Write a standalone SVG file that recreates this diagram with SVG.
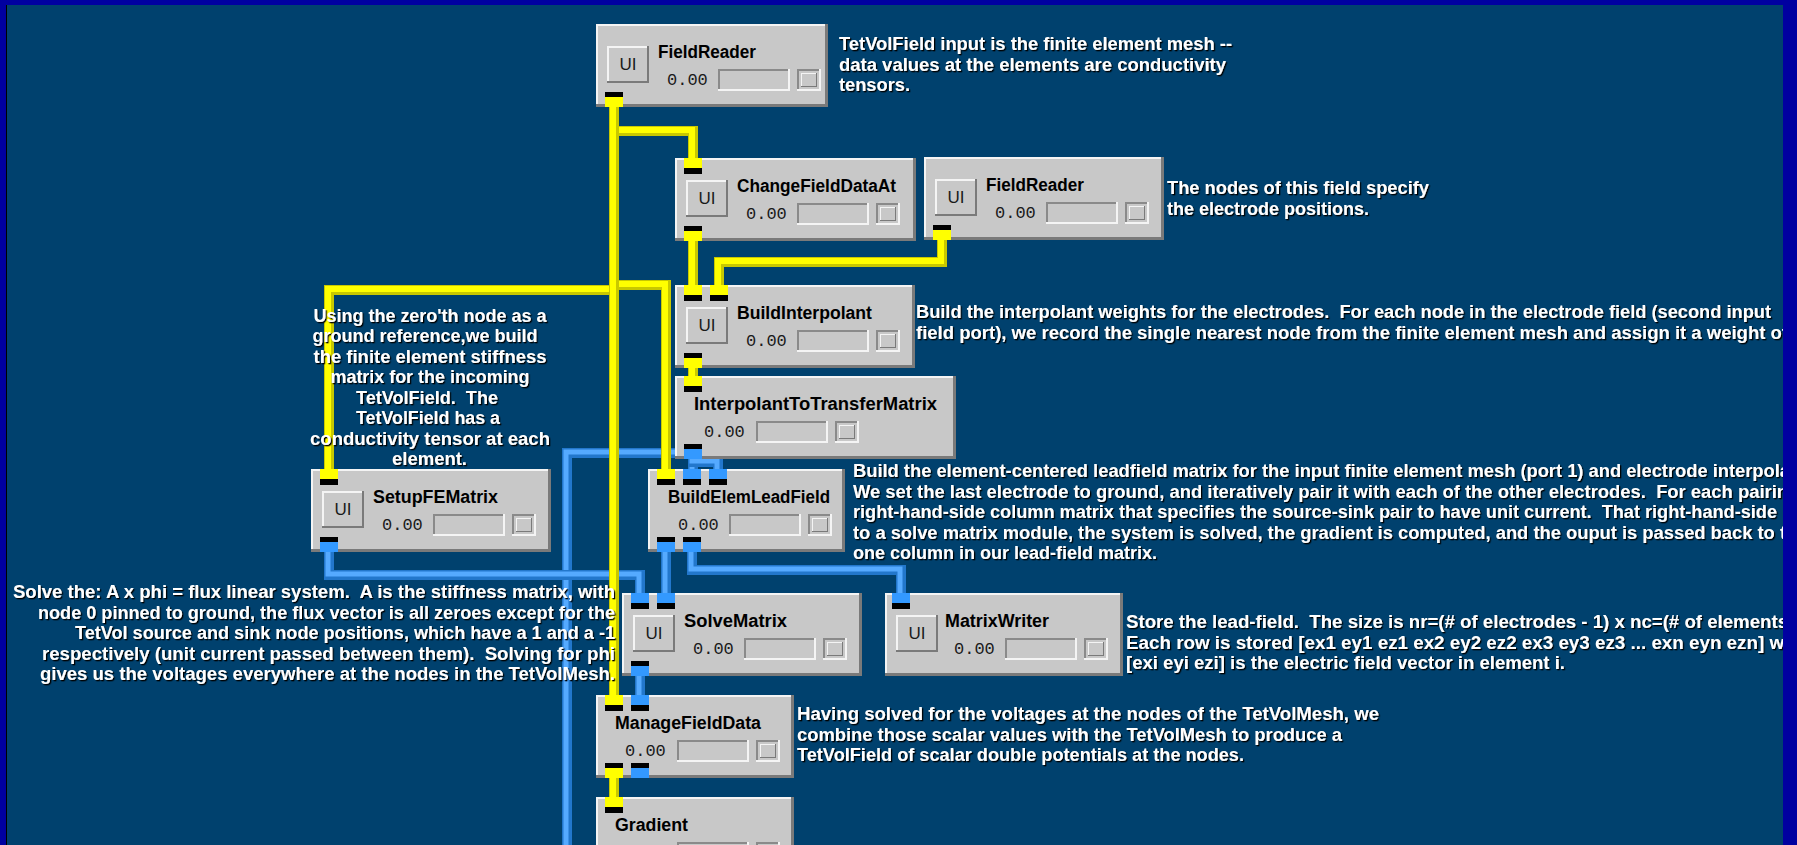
<svg xmlns="http://www.w3.org/2000/svg" width="1797" height="845" viewBox="0 0 1797 845">
<defs>
<filter id="sh" x="-5%" y="-10%" width="110%" height="130%">
<feDropShadow dx="1.3" dy="1.3" stdDeviation="0.2" flood-color="#000" flood-opacity="1"/>
</filter>
<style>
.bg{fill:#00416e}
.frame{fill:#0000a0}
.bd{fill:#7a7a7a}
.bl{fill:#f4f4f4}
.bf{fill:#c8c8c8}
.sd{fill:#8a8a8a}
.title{font-family:"Liberation Sans",Arial,sans-serif;font-weight:bold;font-size:18px;fill:#000}
.val{font-family:"Liberation Mono","Courier New",monospace;font-size:17px;fill:#1a1a1a}
.ui{font-family:"Liberation Sans",Arial,sans-serif;font-size:17px;fill:#1a1a1a;text-anchor:middle}
.ann{font-family:"Liberation Sans",Arial,sans-serif;font-weight:bold;font-size:18px;fill:#fff;white-space:pre}
.pk{fill:#000}
.py{fill:#ffff00}
.pb{fill:#3399ff}
.yo{fill:none;stroke:#c8c800;stroke-width:10}
.yi{fill:none;stroke:#ffff00;stroke-width:6}
.bo{fill:none;stroke:#2277cc;stroke-width:10}
.bi{fill:none;stroke:#55aaff;stroke-width:5}
</style>
</defs>
<rect class="bg" x="0" y="0" width="1797" height="845"/>

<g id="connectors">
<g id="matrix-connectors">
<path class="bo" d="M693,453 H567 V850"/><path class="bi" d="M693,452 H566 V850"/>
<path class="bo" d="M329,552 V575 H640 V593"/><path class="bi" d="M328,552 V574 H639 V593"/>
<path class="bo" d="M692,552 V570 H901 V593"/><path class="bi" d="M691,552 V569 H900 V593"/>
<path class="bo" d="M666,552 V593"/><path class="bi" d="M665,552 V593"/>
<path class="bo" d="M640,676 V695"/><path class="bi" d="M639,676 V695"/>
<path class="bo" d="M693,457 V469"/><path class="bi" d="M692,457 V469"/>
<path class="bo" d="M693,457 V462 H718 V469"/><path class="bi" d="M692,457 V461 H717 V469"/>
</g>
<g id="field-connectors">
<path class="yo" d="M614,107 V131 H693 V158"/><path class="yi" d="M613,107 V130 H692 V158"/>
<path class="yo" d="M614,107 V290 H329 V469"/><path class="yi" d="M613,107 V289 H328 V469"/>
<path class="yo" d="M614,107 V285 H666 V469"/><path class="yi" d="M613,107 V284 H665 V469"/>
<path class="yo" d="M614,107 V695"/><path class="yi" d="M613,107 V695"/>
<path class="yo" d="M693,240 V285"/><path class="yi" d="M692,240 V285"/>
<path class="yo" d="M942,239 V262 H719 V285"/><path class="yi" d="M941,239 V261 H718 V285"/>
<path class="yo" d="M693,367 V376"/><path class="yi" d="M692,367 V376"/>
<path class="yo" d="M614,777 V797"/><path class="yi" d="M613,777 V797"/>
</g>
</g>

<g id="node-fieldreader-1" transform="translate(596,24)">
<rect class="bd" width="232" height="83"/><rect class="bl" width="229" height="80"/><rect class="bf" x="2" y="2" width="227" height="78"/>
<rect class="bd" x="11" y="22" width="42" height="37"/><rect class="bl" x="11" y="22" width="40" height="35"/><rect class="bf" x="13" y="24" width="38" height="33"/><text class="ui" x="32" y="46">UI</text>
<text class="title" x="62" y="34" textLength="98" lengthAdjust="spacingAndGlyphs">FieldReader</text>
<text class="val" x="71" y="61">0.00</text>
<rect class="bl" x="122" y="45" width="72" height="22"/><rect class="sd" x="122" y="45" width="70" height="20"/><rect class="bf" x="124" y="47" width="68" height="18"/>
<rect class="bl" x="201" y="45" width="24" height="22"/><rect class="sd" x="201" y="45" width="22" height="20"/><rect class="bf" x="203" y="47" width="20" height="18"/><rect class="bd" x="205" y="49" width="16" height="14"/><rect class="bl" x="205" y="49" width="15" height="13"/><rect class="bf" x="206" y="50" width="14" height="12"/>
<rect class="pk" x="9" y="68" width="18" height="5"/><rect class="py" x="9" y="73" width="18" height="10"/>
</g>

<g id="node-changefielddataat" transform="translate(675,158)">
<rect class="bd" width="241" height="83"/><rect class="bl" width="238" height="80"/><rect class="bf" x="2" y="2" width="236" height="78"/>
<rect class="bd" x="11" y="22" width="42" height="37"/><rect class="bl" x="11" y="22" width="40" height="35"/><rect class="bf" x="13" y="24" width="38" height="33"/><text class="ui" x="32" y="46">UI</text>
<text class="title" x="62" y="34" textLength="159" lengthAdjust="spacingAndGlyphs">ChangeFieldDataAt</text>
<text class="val" x="71" y="61">0.00</text>
<rect class="bl" x="122" y="45" width="72" height="22"/><rect class="sd" x="122" y="45" width="70" height="20"/><rect class="bf" x="124" y="47" width="68" height="18"/>
<rect class="bl" x="201" y="45" width="24" height="22"/><rect class="sd" x="201" y="45" width="22" height="20"/><rect class="bf" x="203" y="47" width="20" height="18"/><rect class="bd" x="205" y="49" width="16" height="14"/><rect class="bl" x="205" y="49" width="15" height="13"/><rect class="bf" x="206" y="50" width="14" height="12"/>
<rect class="py" x="9" y="0" width="18" height="10"/><rect class="pk" x="9" y="10" width="18" height="6"/>
<rect class="pk" x="9" y="68" width="18" height="5"/><rect class="py" x="9" y="73" width="18" height="10"/>
</g>

<g id="node-fieldreader-2" transform="translate(924,157)">
<rect class="bd" width="240" height="83"/><rect class="bl" width="237" height="80"/><rect class="bf" x="2" y="2" width="235" height="78"/>
<rect class="bd" x="11" y="22" width="42" height="37"/><rect class="bl" x="11" y="22" width="40" height="35"/><rect class="bf" x="13" y="24" width="38" height="33"/><text class="ui" x="32" y="46">UI</text>
<text class="title" x="62" y="34" textLength="98" lengthAdjust="spacingAndGlyphs">FieldReader</text>
<text class="val" x="71" y="61">0.00</text>
<rect class="bl" x="122" y="45" width="72" height="22"/><rect class="sd" x="122" y="45" width="70" height="20"/><rect class="bf" x="124" y="47" width="68" height="18"/>
<rect class="bl" x="201" y="45" width="24" height="22"/><rect class="sd" x="201" y="45" width="22" height="20"/><rect class="bf" x="203" y="47" width="20" height="18"/><rect class="bd" x="205" y="49" width="16" height="14"/><rect class="bl" x="205" y="49" width="15" height="13"/><rect class="bf" x="206" y="50" width="14" height="12"/>
<rect class="pk" x="9" y="68" width="18" height="5"/><rect class="py" x="9" y="73" width="18" height="10"/>
</g>

<g id="node-buildinterpolant" transform="translate(675,285)">
<rect class="bd" width="240" height="83"/><rect class="bl" width="237" height="80"/><rect class="bf" x="2" y="2" width="235" height="78"/>
<rect class="bd" x="11" y="22" width="42" height="37"/><rect class="bl" x="11" y="22" width="40" height="35"/><rect class="bf" x="13" y="24" width="38" height="33"/><text class="ui" x="32" y="46">UI</text>
<text class="title" x="62" y="34" textLength="135" lengthAdjust="spacingAndGlyphs">BuildInterpolant</text>
<text class="val" x="71" y="61">0.00</text>
<rect class="bl" x="122" y="45" width="72" height="22"/><rect class="sd" x="122" y="45" width="70" height="20"/><rect class="bf" x="124" y="47" width="68" height="18"/>
<rect class="bl" x="201" y="45" width="24" height="22"/><rect class="sd" x="201" y="45" width="22" height="20"/><rect class="bf" x="203" y="47" width="20" height="18"/><rect class="bd" x="205" y="49" width="16" height="14"/><rect class="bl" x="205" y="49" width="15" height="13"/><rect class="bf" x="206" y="50" width="14" height="12"/>
<rect class="py" x="9" y="0" width="18" height="10"/><rect class="pk" x="9" y="10" width="18" height="6"/>
<rect class="py" x="35" y="0" width="18" height="10"/><rect class="pk" x="35" y="10" width="18" height="6"/>
<rect class="pk" x="9" y="68" width="18" height="5"/><rect class="py" x="9" y="73" width="18" height="10"/>
</g>

<g id="node-interpolanttotransfermatrix" transform="translate(675,376)">
<rect class="bd" width="281" height="83"/><rect class="bl" width="278" height="80"/><rect class="bf" x="2" y="2" width="276" height="78"/>
<text class="title" x="19" y="34" textLength="243" lengthAdjust="spacingAndGlyphs">InterpolantToTransferMatrix</text>
<text class="val" x="29" y="61">0.00</text>
<rect class="bl" x="81" y="45" width="72" height="22"/><rect class="sd" x="81" y="45" width="70" height="20"/><rect class="bf" x="83" y="47" width="68" height="18"/>
<rect class="bl" x="160" y="45" width="24" height="22"/><rect class="sd" x="160" y="45" width="22" height="20"/><rect class="bf" x="162" y="47" width="20" height="18"/><rect class="bd" x="164" y="49" width="16" height="14"/><rect class="bl" x="164" y="49" width="15" height="13"/><rect class="bf" x="165" y="50" width="14" height="12"/>
<rect class="py" x="9" y="0" width="18" height="10"/><rect class="pk" x="9" y="10" width="18" height="6"/>
<rect class="pk" x="9" y="68" width="18" height="5"/><rect class="pb" x="9" y="73" width="18" height="10"/>
</g>

<g id="node-setupfematrix" transform="translate(311,469)">
<rect class="bd" width="240" height="83"/><rect class="bl" width="237" height="80"/><rect class="bf" x="2" y="2" width="235" height="78"/>
<rect class="bd" x="11" y="22" width="42" height="37"/><rect class="bl" x="11" y="22" width="40" height="35"/><rect class="bf" x="13" y="24" width="38" height="33"/><text class="ui" x="32" y="46">UI</text>
<text class="title" x="62" y="34" textLength="125" lengthAdjust="spacingAndGlyphs">SetupFEMatrix</text>
<text class="val" x="71" y="61">0.00</text>
<rect class="bl" x="122" y="45" width="72" height="22"/><rect class="sd" x="122" y="45" width="70" height="20"/><rect class="bf" x="124" y="47" width="68" height="18"/>
<rect class="bl" x="201" y="45" width="24" height="22"/><rect class="sd" x="201" y="45" width="22" height="20"/><rect class="bf" x="203" y="47" width="20" height="18"/><rect class="bd" x="205" y="49" width="16" height="14"/><rect class="bl" x="205" y="49" width="15" height="13"/><rect class="bf" x="206" y="50" width="14" height="12"/>
<rect class="py" x="9" y="0" width="18" height="10"/><rect class="pk" x="9" y="10" width="18" height="6"/>
<rect class="pk" x="9" y="68" width="18" height="5"/><rect class="pb" x="9" y="73" width="18" height="10"/>
</g>

<g id="node-buildelemleadfield" transform="translate(648,469)">
<rect class="bd" width="197" height="83"/><rect class="bl" width="194" height="80"/><rect class="bf" x="2" y="2" width="192" height="78"/>
<text class="title" x="20" y="34" textLength="162" lengthAdjust="spacingAndGlyphs">BuildElemLeadField</text>
<text class="val" x="30" y="61">0.00</text>
<rect class="bl" x="81" y="45" width="72" height="22"/><rect class="sd" x="81" y="45" width="70" height="20"/><rect class="bf" x="83" y="47" width="68" height="18"/>
<rect class="bl" x="160" y="45" width="24" height="22"/><rect class="sd" x="160" y="45" width="22" height="20"/><rect class="bf" x="162" y="47" width="20" height="18"/><rect class="bd" x="164" y="49" width="16" height="14"/><rect class="bl" x="164" y="49" width="15" height="13"/><rect class="bf" x="165" y="50" width="14" height="12"/>
<rect class="py" x="9" y="0" width="18" height="10"/><rect class="pk" x="9" y="10" width="18" height="6"/>
<rect class="pb" x="35" y="0" width="18" height="10"/><rect class="pk" x="35" y="10" width="18" height="6"/>
<rect class="pb" x="61" y="0" width="18" height="10"/><rect class="pk" x="61" y="10" width="18" height="6"/>
<rect class="pk" x="9" y="68" width="18" height="5"/><rect class="pb" x="9" y="73" width="18" height="10"/>
<rect class="pk" x="35" y="68" width="18" height="5"/><rect class="pb" x="35" y="73" width="18" height="10"/>
</g>

<g id="node-solvematrix" transform="translate(622,593)">
<rect class="bd" width="240" height="83"/><rect class="bl" width="237" height="80"/><rect class="bf" x="2" y="2" width="235" height="78"/>
<rect class="bd" x="11" y="22" width="42" height="37"/><rect class="bl" x="11" y="22" width="40" height="35"/><rect class="bf" x="13" y="24" width="38" height="33"/><text class="ui" x="32" y="46">UI</text>
<text class="title" x="62" y="34" textLength="103" lengthAdjust="spacingAndGlyphs">SolveMatrix</text>
<text class="val" x="71" y="61">0.00</text>
<rect class="bl" x="122" y="45" width="72" height="22"/><rect class="sd" x="122" y="45" width="70" height="20"/><rect class="bf" x="124" y="47" width="68" height="18"/>
<rect class="bl" x="201" y="45" width="24" height="22"/><rect class="sd" x="201" y="45" width="22" height="20"/><rect class="bf" x="203" y="47" width="20" height="18"/><rect class="bd" x="205" y="49" width="16" height="14"/><rect class="bl" x="205" y="49" width="15" height="13"/><rect class="bf" x="206" y="50" width="14" height="12"/>
<rect class="pb" x="9" y="0" width="18" height="10"/><rect class="pk" x="9" y="10" width="18" height="6"/>
<rect class="pb" x="35" y="0" width="18" height="10"/><rect class="pk" x="35" y="10" width="18" height="6"/>
<rect class="pk" x="9" y="68" width="18" height="5"/><rect class="pb" x="9" y="73" width="18" height="10"/>
</g>

<g id="node-matrixwriter" transform="translate(885,593)">
<rect class="bd" width="238" height="83"/><rect class="bl" width="235" height="80"/><rect class="bf" x="2" y="2" width="233" height="78"/>
<rect class="bd" x="11" y="22" width="42" height="37"/><rect class="bl" x="11" y="22" width="40" height="35"/><rect class="bf" x="13" y="24" width="38" height="33"/><text class="ui" x="32" y="46">UI</text>
<text class="title" x="60" y="34" textLength="104" lengthAdjust="spacingAndGlyphs">MatrixWriter</text>
<text class="val" x="69" y="61">0.00</text>
<rect class="bl" x="120" y="45" width="72" height="22"/><rect class="sd" x="120" y="45" width="70" height="20"/><rect class="bf" x="122" y="47" width="68" height="18"/>
<rect class="bl" x="199" y="45" width="24" height="22"/><rect class="sd" x="199" y="45" width="22" height="20"/><rect class="bf" x="201" y="47" width="20" height="18"/><rect class="bd" x="203" y="49" width="16" height="14"/><rect class="bl" x="203" y="49" width="15" height="13"/><rect class="bf" x="204" y="50" width="14" height="12"/>
<rect class="pb" x="7" y="0" width="18" height="10"/><rect class="pk" x="7" y="10" width="18" height="6"/>
</g>

<g id="node-managefielddata" transform="translate(596,695)">
<rect class="bd" width="198" height="83"/><rect class="bl" width="195" height="80"/><rect class="bf" x="2" y="2" width="193" height="78"/>
<text class="title" x="19" y="34" textLength="146" lengthAdjust="spacingAndGlyphs">ManageFieldData</text>
<text class="val" x="29" y="61">0.00</text>
<rect class="bl" x="81" y="45" width="72" height="22"/><rect class="sd" x="81" y="45" width="70" height="20"/><rect class="bf" x="83" y="47" width="68" height="18"/>
<rect class="bl" x="160" y="45" width="24" height="22"/><rect class="sd" x="160" y="45" width="22" height="20"/><rect class="bf" x="162" y="47" width="20" height="18"/><rect class="bd" x="164" y="49" width="16" height="14"/><rect class="bl" x="164" y="49" width="15" height="13"/><rect class="bf" x="165" y="50" width="14" height="12"/>
<rect class="py" x="9" y="0" width="18" height="10"/><rect class="pk" x="9" y="10" width="18" height="6"/>
<rect class="pb" x="35" y="0" width="18" height="10"/><rect class="pk" x="35" y="10" width="18" height="6"/>
<rect class="pk" x="9" y="68" width="18" height="5"/><rect class="py" x="9" y="73" width="18" height="10"/>
<rect class="pk" x="35" y="68" width="18" height="5"/><rect class="pb" x="35" y="73" width="18" height="10"/>
</g>

<g id="node-gradient" transform="translate(596,797)">
<rect class="bd" width="198" height="83"/><rect class="bl" width="195" height="80"/><rect class="bf" x="2" y="2" width="193" height="78"/>
<text class="title" x="19" y="34" textLength="73" lengthAdjust="spacingAndGlyphs">Gradient</text>
<text class="val" x="29" y="61">0.00</text>
<rect class="bl" x="81" y="45" width="72" height="22"/><rect class="sd" x="81" y="45" width="70" height="20"/><rect class="bf" x="83" y="47" width="68" height="18"/>
<rect class="bl" x="160" y="45" width="24" height="22"/><rect class="sd" x="160" y="45" width="22" height="20"/><rect class="bf" x="162" y="47" width="20" height="18"/>
<rect class="py" x="9" y="0" width="18" height="10"/><rect class="pk" x="9" y="10" width="18" height="6"/>
</g>

<g id="annotations" filter="url(#sh)">
<g id="note-fieldreader-1">
<text class="ann" x="839" y="50" textLength="393" lengthAdjust="spacingAndGlyphs">TetVolField input is the finite element mesh --</text>
<text class="ann" x="839" y="70.5" textLength="387" lengthAdjust="spacingAndGlyphs">data values at the elements are conductivity</text>
<text class="ann" x="839" y="91" textLength="71" lengthAdjust="spacingAndGlyphs">tensors.</text>
</g>
<g id="note-fieldreader-2">
<text class="ann" x="1167" y="194" textLength="262" lengthAdjust="spacingAndGlyphs">The nodes of this field specify</text>
<text class="ann" x="1167" y="215" textLength="202" lengthAdjust="spacingAndGlyphs">the electrode positions.</text>
</g>
<g id="note-buildinterpolant">
<text class="ann" x="916" y="318" textLength="855" lengthAdjust="spacingAndGlyphs">Build the interpolant weights for the electrodes.  For each node in the electrode field (second input</text>
<text class="ann" x="916" y="339" textLength="872" lengthAdjust="spacingAndGlyphs">field port), we record the single nearest node from the finite element mesh and assign it a weight of</text>
</g>
<g id="note-setupfematrix" text-anchor="middle">
<text class="ann" x="430" y="321.5" textLength="233" lengthAdjust="spacingAndGlyphs">Using the zero'th node as a</text>
<text class="ann" x="425" y="342" textLength="225" lengthAdjust="spacingAndGlyphs">ground reference,we build</text>
<text class="ann" x="430" y="362.5" textLength="233" lengthAdjust="spacingAndGlyphs">the finite element stiffness</text>
<text class="ann" x="430" y="383" textLength="199" lengthAdjust="spacingAndGlyphs">matrix for the incoming</text>
<text class="ann" x="427" y="403.5" textLength="142" lengthAdjust="spacingAndGlyphs">TetVolField.  The</text>
<text class="ann" x="428" y="424" textLength="144" lengthAdjust="spacingAndGlyphs">TetVolField has a</text>
<text class="ann" x="430" y="444.5" textLength="240" lengthAdjust="spacingAndGlyphs">conductivity tensor at each</text>
<text class="ann" x="429.5" y="465" textLength="75" lengthAdjust="spacingAndGlyphs">element.</text>
</g>
<g id="note-buildelemleadfield">
<text class="ann" x="853" y="477" textLength="937" lengthAdjust="spacingAndGlyphs">Build the element-centered leadfield matrix for the input finite element mesh (port 1) and electrode interpola</text>
<text class="ann" x="853" y="497.5" textLength="935" lengthAdjust="spacingAndGlyphs">We set the last electrode to ground, and iteratively pair it with each of the other electrodes.  For each pairin</text>
<text class="ann" x="853" y="518" textLength="924" lengthAdjust="spacingAndGlyphs">right-hand-side column matrix that specifies the source-sink pair to have unit current.  That right-hand-side</text>
<text class="ann" x="853" y="538.5" textLength="933" lengthAdjust="spacingAndGlyphs">to a solve matrix module, the system is solved, the gradient is computed, and the ouput is passed back to t</text>
<text class="ann" x="853" y="559" textLength="304" lengthAdjust="spacingAndGlyphs">one column in our lead-field matrix.</text>
</g>
<g id="note-solvematrix">
<text class="ann" x="13" y="598" textLength="602" lengthAdjust="spacingAndGlyphs">Solve the: A x phi = flux linear system.  A is the stiffness matrix, with</text>
<text class="ann" x="38" y="618.5" textLength="577" lengthAdjust="spacingAndGlyphs">node 0 pinned to ground, the flux vector is all zeroes except for the</text>
<text class="ann" x="75" y="639" textLength="540" lengthAdjust="spacingAndGlyphs">TetVol source and sink node positions, which have a 1 and a -1</text>
<text class="ann" x="42" y="659.5" textLength="573" lengthAdjust="spacingAndGlyphs">respectively (unit current passed between them).  Solving for phi</text>
<text class="ann" x="40" y="680" textLength="575" lengthAdjust="spacingAndGlyphs">gives us the voltages everywhere at the nodes in the TetVolMesh.</text>
</g>
<g id="note-matrixwriter">
<text class="ann" x="1126" y="628" textLength="662" lengthAdjust="spacingAndGlyphs">Store the lead-field.  The size is nr=(# of electrodes - 1) x nc=(# of elements</text>
<text class="ann" x="1126" y="648.5" textLength="658" lengthAdjust="spacingAndGlyphs">Each row is stored [ex1 ey1 ez1 ex2 ey2 ez2 ex3 ey3 ez3 ... exn eyn ezn] w</text>
<text class="ann" x="1126" y="669" textLength="439" lengthAdjust="spacingAndGlyphs">[exi eyi ezi] is the electric field vector in element i.</text>
</g>
<g id="note-managefielddata">
<text class="ann" x="797" y="720" textLength="582" lengthAdjust="spacingAndGlyphs">Having solved for the voltages at the nodes of the TetVolMesh, we</text>
<text class="ann" x="797" y="741" textLength="545" lengthAdjust="spacingAndGlyphs">combine those scalar values with the TetVolMesh to produce a</text>
<text class="ann" x="797" y="761" textLength="447" lengthAdjust="spacingAndGlyphs">TetVolField of scalar double potentials at the nodes.</text>
</g>
</g>

<g id="frame">
<rect class="frame" x="0" y="0" width="1797" height="5"/>
<rect class="frame" x="0" y="0" width="6" height="845"/>
<rect fill="#000" x="6" y="5" width="1" height="840"/>
<rect class="frame" x="1783" y="0" width="14" height="845"/>
</g>
</svg>
